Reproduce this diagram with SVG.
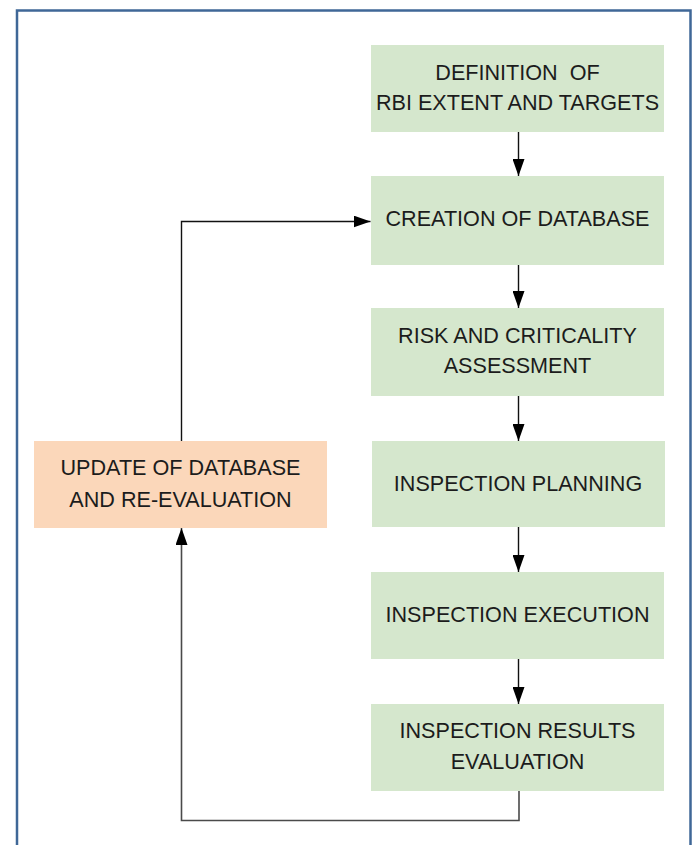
<svg xmlns="http://www.w3.org/2000/svg" width="694" height="845" viewBox="0 0 694 845">
<style>
.g{fill:#d5e7cd}
.o{fill:#fbd7ba}
.t{font-family:"Liberation Sans",Arial,sans-serif;font-size:21.6px;fill:#1c1c1c;text-anchor:middle}
.c{fill:none;stroke:#111;stroke-width:1.4}
.loop{fill:none;stroke:#4a4a4a;stroke-width:1.6}
</style>
<defs>
<marker id="ah" markerWidth="18" markerHeight="12" refX="17" refY="6" orient="auto" markerUnits="userSpaceOnUse">
<path d="M0,0 L17,6 L0,12 Z" fill="#000"/>
</marker>
</defs>
<rect width="694" height="845" fill="#fff"/>
<rect x="17" y="10.5" width="673.5" height="860" fill="none" stroke="#3f6797" stroke-width="2.5"/>
<g id="connectors">
<line class="c" x1="518.5" y1="132" x2="518.5" y2="176" marker-end="url(#ah)"/>
<line class="c" x1="518.5" y1="265" x2="518.5" y2="308" marker-end="url(#ah)"/>
<line class="c" x1="518.5" y1="396" x2="518.5" y2="441" marker-end="url(#ah)"/>
<line class="c" x1="518.5" y1="527" x2="518.5" y2="572" marker-end="url(#ah)"/>
<line class="c" x1="518.5" y1="659" x2="518.5" y2="704" marker-end="url(#ah)"/>
<polyline class="loop" points="519,791 519,820.5 181.5,820.5 181.5,528" marker-end="url(#ah)"/>
<polyline class="c" points="181.5,441 181.5,221.5 370.5,221.5" marker-end="url(#ah)"/>
</g>
<g id="n1"><rect class="g" x="371" y="45" width="293" height="87"/><text class="t" x="517.5" y="80" xml:space="preserve">DEFINITION  OF</text><text class="t" x="517.5" y="110">RBI EXTENT AND TARGETS</text></g>
<g id="n2"><rect class="g" x="371" y="176" width="293" height="89"/><text class="t" x="517.5" y="225.5">CREATION OF DATABASE</text></g>
<g id="n3"><rect class="g" x="371" y="308" width="293" height="88"/><text class="t" x="517.5" y="342.7">RISK AND CRITICALITY</text><text class="t" x="517.5" y="372.7">ASSESSMENT</text></g>
<g id="n4"><rect class="g" x="372" y="441" width="293" height="86"/><text class="t" x="518" y="491">INSPECTION PLANNING</text></g>
<g id="n5"><rect class="g" x="371" y="572" width="293" height="87"/><text class="t" x="517.5" y="622.3">INSPECTION EXECUTION</text></g>
<g id="n6"><rect class="g" x="371" y="704" width="293" height="87"/><text class="t" x="517.5" y="738.3">INSPECTION RESULTS</text><text class="t" x="517.5" y="769.3">EVALUATION</text></g>
<g id="n7"><rect class="o" x="34" y="441" width="293" height="87"/><text class="t" x="180.5" y="475">UPDATE OF DATABASE</text><text class="t" x="180.5" y="506.5">AND RE-EVALUATION</text></g>
</svg>
